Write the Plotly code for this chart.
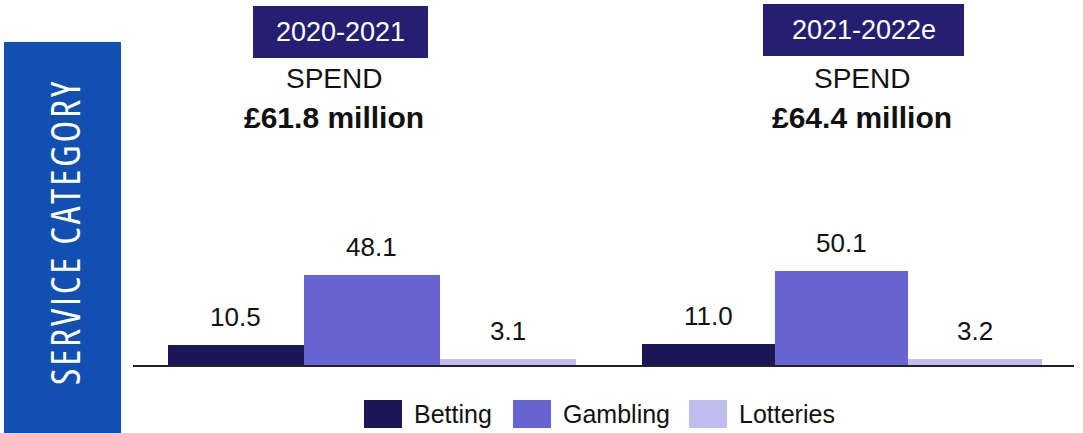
import plotly.graph_objects as go

# ---- data ----
periods = ["2020-2021", "2021-2022e"]
total_spend = [61.8, 64.4]          # £ million
categories = ["Betting", "Gambling", "Lotteries"]
betting = [10.5, 11.0]
gambling = [48.1, 50.1]
lotteries = [3.1, 3.2]

# ---- styling ----
W, H = 1083, 433
FONT = "Liberation Sans, Arial, sans-serif"
colors = ["#1b1757", "#6864d3", "#c0bdef"]
header_color = "#251f74"
side_color = "#1150b0"


def fx(px):
    return px / W


def fy(py):
    return 1 - py / H


# pixel layout of the two panels
panel_x = [(133, 605), (605, 1074)]
panel_range = [(-0.757, 2.713), (-0.775, 2.742)]
plot_top, plot_bottom = 140.2, 365
y_max = 120

header_boxes = [(253, 428, 6, 58), (763, 964, 4, 56)]
spend_x = [334, 862]

fig = go.Figure()
annotations = []
shapes = []

for i, period in enumerate(periods):
    values = [betting[i], gambling[i], lotteries[i]]
    suffix = "" if i == 0 else str(i + 1)
    fig.add_trace(go.Bar(
        x=categories, y=values, marker=dict(color=colors, line=dict(width=0)),
        xaxis="x" + suffix, yaxis="y" + suffix, showlegend=False,
        hoverinfo="x+y",
    ))
    for cat, v in zip(categories, values):
        annotations.append(dict(
            x=cat, y=v, xref="x" + suffix, yref="y" + suffix,
            text=f"{v:.1f}", showarrow=False, yanchor="middle", yshift=28,
            font=dict(family=FONT, size=26, color="#111"),
        ))
    ax = dict(domain=[fx(panel_x[i][0]), fx(panel_x[i][1])],
              range=list(panel_range[i]), showticklabels=False, ticks="",
              showgrid=False, zeroline=False, showline=True,
              linecolor="#222", linewidth=1.5, fixedrange=True)
    ay = dict(domain=[fy(plot_bottom), fy(plot_top)], range=[0, y_max],
              visible=False, fixedrange=True)
    if i == 0:
        fig.update_layout(xaxis=ax, yaxis=ay)
    else:
        ax["anchor"] = "y2"
        ay["anchor"] = "x2"
        fig.update_layout(xaxis2=ax, yaxis2=ay)

    # period header box
    x0, x1, y0, y1 = header_boxes[i]
    shapes.append(dict(type="rect", xref="paper", yref="paper",
                       x0=fx(x0), x1=fx(x1), y0=fy(y1), y1=fy(y0),
                       fillcolor=header_color, line=dict(width=0), layer="below"))
    annotations.append(dict(x=fx((x0 + x1) / 2), y=fy((y0 + y1) / 2),
                            xref="paper", yref="paper", text=period,
                            showarrow=False, xanchor="center", yanchor="middle",
                            font=dict(family=FONT, size=27, color="white")))
    annotations.append(dict(x=fx(spend_x[i]), y=fy(79), xref="paper", yref="paper",
                            text="SPEND", showarrow=False, xanchor="center",
                            yanchor="middle",
                            font=dict(family=FONT, size=28, color="#111")))
    annotations.append(dict(x=fx(spend_x[i]), y=fy(117), xref="paper", yref="paper",
                            text=f"£{total_spend[i]:.1f} million",
                            showarrow=False, xanchor="center", yanchor="middle",
                            font=dict(family=FONT, size=30, color="#111",
                                      weight=600)))

# side banner
shapes.append(dict(type="rect", xref="paper", yref="paper",
                   x0=fx(4), x1=fx(121), y0=0, y1=fy(42),
                   fillcolor=side_color, line=dict(width=0), layer="below"))
annotations.append(dict(x=fx(64), y=fy(232), xref="paper", yref="paper",
                        text='<span style="font-stretch:condensed;letter-spacing:2.8px">'
                             'SERVICE CATEGORY</span>',
                        textangle=-90, showarrow=False,
                        xanchor="center", yanchor="middle",
                        font=dict(family="Open Sans, sans-serif",
                                  size=40, color="white")))

# legend
legend_x = [364, 513, 689]
for name, col, lx in zip(categories, colors, legend_x):
    shapes.append(dict(type="rect", xref="paper", yref="paper",
                       x0=fx(lx), x1=fx(lx + 38), y0=fy(428), y1=fy(400),
                       fillcolor=col, line=dict(width=0)))
    annotations.append(dict(x=fx(lx + 48), y=fy(414), xref="paper", yref="paper",
                            text=name, showarrow=False, xanchor="left",
                            yanchor="middle",
                            font=dict(family=FONT, size=25, color="#111")))

fig.update_layout(
    width=W, height=H, margin=dict(l=0, r=0, t=0, b=0),
    paper_bgcolor="white", plot_bgcolor="white",
    bargap=0, shapes=shapes, annotations=annotations,
)

fig.write_html("out.html")
